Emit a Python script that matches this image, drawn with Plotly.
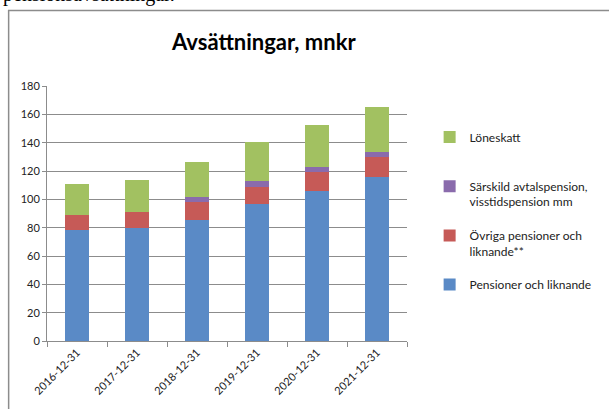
import plotly.graph_objects as go

categories = ["2016-12-31", "2017-12-31", "2018-12-31", "2019-12-31", "2020-12-31", "2021-12-31"]
pensioner = [78.4, 80.0, 85.6, 96.6, 106.2, 116.0]
ovriga = [10.6, 11.2, 12.4, 12.4, 13.3, 14.0]
sarskild = [0.0, 0.0, 3.8, 3.7, 3.3, 3.3]
loneskatt = [21.6, 22.8, 24.9, 27.6, 29.9, 32.2]
y_ticks = [0, 20, 40, 60, 80, 100, 120, 140, 160, 180]

series = [
    ("Pensioner och liknande", pensioner, "#5A8AC6"),
    ("Övriga pensioner och<br>liknande**", ovriga, "#C65A57"),
    ("Särskild avtalspension,<br>visstidspension mm", sarskild, "#8A6BAC"),
    ("Löneskatt<br> ", loneskatt, "#A2C161"),
]

W, H = 609, 409
ml, mr, mt, mb = 47, 196, 86, 66
pw, ph = W - ml - mr, H - mt - mb

fig = go.Figure()
for i, (name, vals, col) in enumerate(series):
    fig.add_trace(go.Bar(
        x=categories, y=vals, name=name, marker_color=col,
        marker_line_width=0, legendgroup=str(i), legendrank=1000 - i,
    ))

def px_x(p):
    return (p - ml) / pw

def px_y(p):
    return (H - mb - p) / ph

fig.update_layout(
    width=W, height=H,
    margin=dict(l=ml, r=mr, t=mt, b=mb),
    barmode="stack", bargap=0.61,
    paper_bgcolor="white", plot_bgcolor="white",
    font=dict(family="Lato", size=11, color="#222222"),
    showlegend=True,
    legend=dict(
        traceorder="grouped", tracegroupgap=15,
        x=px_x(436), xanchor="left", y=px_y(123), yanchor="top",
        font=dict(family="Lato", size=12, color="#222222"),
        itemwidth=30, valign="top", bgcolor="rgba(0,0,0,0)",
    ),
    annotations=[
        dict(text="<b>Avsättningar, mnkr</b>", xref="paper", yref="paper",
             x=px_x(267), y=px_y(41), xanchor="center", yanchor="middle",
             showarrow=False, font=dict(family="Lato", size=22, color="black")),
        dict(text="pensionsavsättningar.", xref="paper", yref="paper",
             x=px_x(0), y=px_y(7), xanchor="left", yanchor="bottom",
             showarrow=False, font=dict(family="Liberation Serif", size=20, color="black")),
    ],
    shapes=[
        dict(type="rect", xref="paper", yref="paper",
             x0=px_x(8), x1=px_x(640), y0=px_y(440), y1=px_y(10),
             line=dict(color="#8c8c8c", width=1.5), fillcolor="rgba(0,0,0,0)", layer="below"),
    ],
)

fig.update_yaxes(
    range=[0, 180], tickvals=y_ticks, showgrid=True, gridcolor="#8c8c8c", gridwidth=1,
    showline=True, linecolor="#8c8c8c", ticks="outside", ticklen=4, tickcolor="#8c8c8c",
    tickfont=dict(size=11), zeroline=False,
)
fig.update_xaxes(
    type="category",
    showline=True, linecolor="#8c8c8c", ticks="outside", ticklen=5, tickcolor="#8c8c8c",
    tickson="boundaries", tickangle=-45, tickfont=dict(size=11), showgrid=False,
)

fig.write_html("out.html", config={"displayModeBar": False},
               post_script="document.body.style.margin='0';")
